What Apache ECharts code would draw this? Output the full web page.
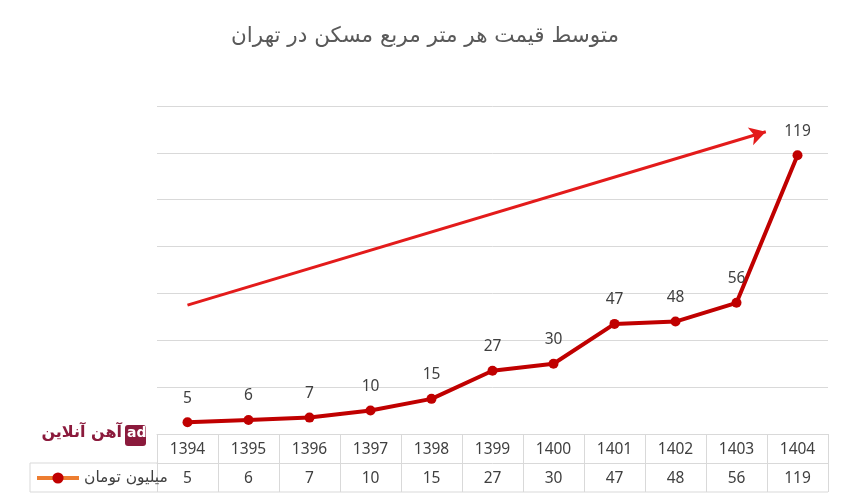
<!DOCTYPE html>
<html><head><meta charset="utf-8">
<script src="https://cdn.jsdelivr.net/npm/echarts@6/dist/echarts.min.js"></script>
<style>html,body{margin:0;padding:0;background:#fff}#c{width:850px;height:494px}</style>
</head><body><div id="c"></div>
<script>
const years = ['1394','1395','1396','1397','1398','1399','1400','1401','1402','1403','1404'];
const prices = [5, 6, 7, 10, 15, 27, 30, 47, 48, 56, 119];
const seriesName = 'میلیون تومان';
const titleText = 'متوسط قیمت هر متر مربع مسکن در تهران';
const trendStart = [0, 55];
const trendEnd = [9.48, 129];
const logoText = 'آهن آنلاین';

const G = {left:157, right:22, top:106, bottom:60};
const W = 850, H = 494, rowH = 29;
const gridBottomY = H - G.bottom;
const tableLeft = 30;
const lineCol = '#d9d9d9';
const font = 'Noto Sans, DejaVu Sans, sans-serif';

const chart = echarts.init(document.getElementById('c'), null, {renderer:'canvas'});
chart.setOption({
  animation:false,
  backgroundColor:'#fff',
  title:{text:titleText, left:'center', top:20, textStyle:{fontFamily:'DejaVu Sans', fontSize:21.5, fontWeight:'normal', color:'#595959'}},
  grid:{left:G.left, right:G.right, top:G.top, bottom:G.bottom},
  legend:{
    left:tableLeft+5, top:gridBottomY+rowH+7, padding:0, itemWidth:42, itemHeight:14, itemGap:3,
    textStyle:{fontFamily:'DejaVu Sans', fontSize:15.5, color:'#404040'},
    data:[{name:seriesName, itemStyle:{color:'#c00000'}, lineStyle:{color:'#ed7d31', width:4}}]
  },
  xAxis:[
    {type:'category', data:years, position:'bottom', boundaryGap:true,
     axisLine:{show:true, lineStyle:{color:lineCol}},
     axisTick:{show:true, length:rowH*2, lineStyle:{color:lineCol}},
     axisLabel:{margin:8, fontFamily:font, fontSize:15.5, color:'#404040'}},
    {type:'category', data:prices.map(String), position:'bottom', offset:rowH, boundaryGap:true,
     axisLine:{show:true, lineStyle:{color:lineCol}},
     axisTick:{show:false},
     axisLabel:{margin:8, fontFamily:font, fontSize:15.5, color:'#404040'}},
    {type:'value', min:-0.5, max:10.5, show:false}
  ],
  yAxis:{type:'value', min:0, max:140, interval:20,
    axisLabel:{show:false}, axisLine:{show:false}, axisTick:{show:false},
    splitLine:{lineStyle:{color:lineCol}}},
  series:[
    {name:seriesName, type:'line', xAxisIndex:0, data:prices,
     symbol:'circle', symbolSize:10, lineStyle:{color:'#c00000', width:4}, itemStyle:{color:'#c00000'},
     label:{show:true, position:'top', distance:11, fontFamily:font, fontSize:15.5, color:'#404040'}},
    {name:'trend', type:'line', xAxisIndex:2, data:[trendStart, trendEnd], symbol:'none', lineStyle:{opacity:0}, silent:true,
     markLine:{silent:true, symbol:['none','arrow'], symbolSize:[14,16], label:{show:false},
       lineStyle:{color:'#e31b1b', width:3, type:'solid'},
       data:[[{coord:trendStart},{coord:trendEnd}]]}}
  ],
  graphic:[
    {type:'line', shape:{x1:tableLeft, y1:gridBottomY+rowH, x2:G.left, y2:gridBottomY+rowH}, style:{stroke:lineCol, lineWidth:1}},
    {type:'line', shape:{x1:tableLeft, y1:gridBottomY+rowH*2, x2:W-G.right, y2:gridBottomY+rowH*2}, style:{stroke:lineCol, lineWidth:1}},
    {type:'line', shape:{x1:tableLeft, y1:gridBottomY+rowH, x2:tableLeft, y2:gridBottomY+rowH*2}, style:{stroke:lineCol, lineWidth:1}},
    {type:'text', right:W-122, top:425, style:{text:logoText, font:'bold 16px DejaVu Sans', fill:'#8b1a3c'}},
    {type:'rect', left:125, top:425, shape:{width:21, height:21, r:3}, style:{fill:'#8b1a3c'}},
    {type:'text', left:127, top:426, style:{text:'ad', font:'bold 14px DejaVu Sans', fill:'#fff'}}
  ]
});
</script></body></html>
